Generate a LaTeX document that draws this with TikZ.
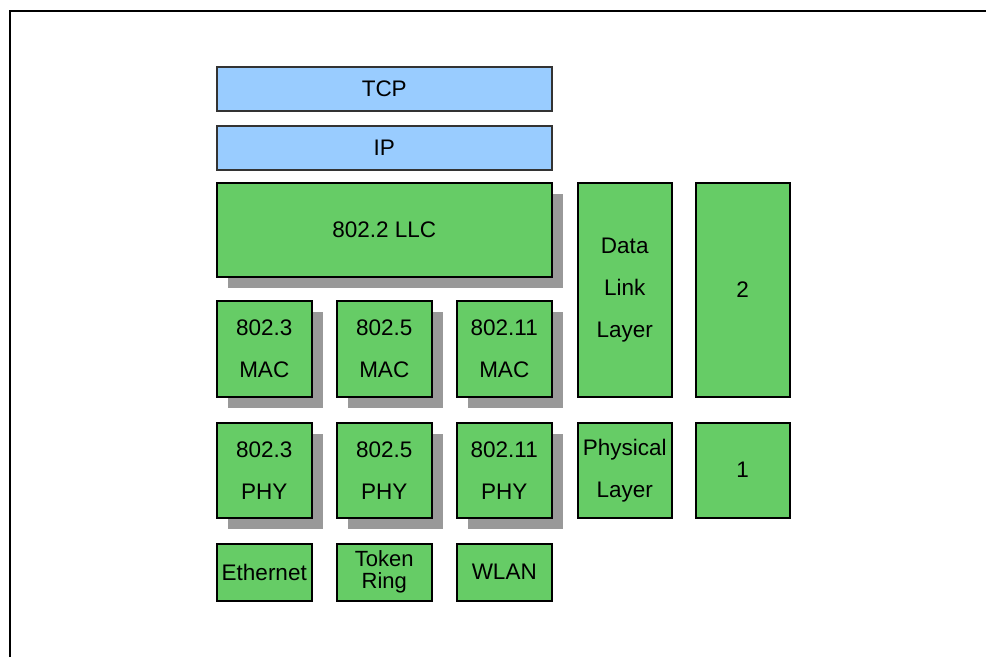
\documentclass[tikz,border=0pt]{standalone}
\usepackage{fontspec}
\setmainfont{Liberation Sans}
\usetikzlibrary{shadows}
\definecolor{boxgreen}{HTML}{66CC66}
\definecolor{boxblue}{HTML}{99CCFF}
\definecolor{shadowgray}{HTML}{999999}
\tikzset{
  layer/.style={draw=black, line width=1.5pt, fill=boxgreen, anchor=north west, inner sep=0pt,
    align=center, font=\fontsize{22.5}{42}\selectfont},
  bluelayer/.style={layer, fill=boxblue, draw=black!80},
  shadowed/.style={general shadow={shadow xshift=11.5pt, shadow yshift=-11.5pt, fill=shadowgray}},
  tight/.style={font=\fontsize{22}{22}\selectfont},
  frameline/.style={line width=2pt, draw=black}
}
\begin{document}
\begin{tikzpicture}[x=1pt,y=-1pt]
\useasboundingbox (0,0) rectangle (986,657);
\coordinate (fa) at (10,657);
\coordinate (fb) at (10,11);
\coordinate (fc) at (986,11);
\draw[frameline] (fa) -- (fb) -- (fc);
% top stack
\node[bluelayer, minimum width=335pt, minimum height=44pt] (tcp) at (216,66) {TCP};
\node[bluelayer, minimum width=335pt, minimum height=44pt] (ip) at (216,125) {IP};
\node[layer, shadowed, minimum width=335pt, minimum height=94pt] (llc) at (216,182) {802.2 LLC};
% MAC row
\node[layer, shadowed, minimum width=95pt, minimum height=96pt] (mac3) at (216,300) {802.3\\MAC};
\node[layer, shadowed, minimum width=95pt, minimum height=96pt] (mac5) at (336,300) {802.5\\MAC};
\node[layer, shadowed, minimum width=95pt, minimum height=96pt] (mac11) at (456,300) {802.11\\MAC};
% PHY row
\node[layer, shadowed, minimum width=95pt, minimum height=95pt] (phy3) at (216,422) {802.3\\PHY};
\node[layer, shadowed, minimum width=95pt, minimum height=95pt] (phy5) at (336,422) {802.5\\PHY};
\node[layer, shadowed, minimum width=95pt, minimum height=95pt] (phy11) at (456,422) {802.11\\PHY};
% media
\node[layer, minimum width=95pt, minimum height=57pt] (eth) at (216,543) {Ethernet};
\node[layer, tight, minimum width=95pt, minimum height=57pt] (tok) at (336,543) {Token\\Ring};
\node[layer, minimum width=95pt, minimum height=57pt] (wlan) at (456,543) {WLAN};
% OSI columns
\node[layer, minimum width=94pt, minimum height=214pt] (dll) at (577,182) {Data\\Link\\Layer};
\node[layer, minimum width=94pt, minimum height=214pt] (two) at (695,182) {2};
\node[layer, minimum width=94pt, minimum height=95pt] (phl) at (577,422) {Physical\\Layer};
\node[layer, minimum width=94pt, minimum height=95pt] (one) at (695,422) {1};
\end{tikzpicture}
\end{document}
